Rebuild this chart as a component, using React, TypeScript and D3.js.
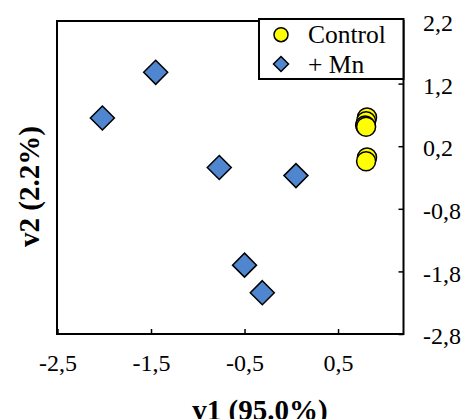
import { useEffect, useRef } from "react";
import * as d3 from "d3";

// PCA scores
const controlV1 = [0.81, 0.8, 0.79, 0.8, 0.81, 0.8];
const controlV2 = [0.66, 0.6, 0.53, 0.51, 0.02, -0.04];
const mnV1 = [-1.45, -2.02, -0.77, 0.05, -0.5, -0.31];
const mnV2 = [1.38, 0.65, -0.14, -0.27, -1.7, -2.14];

const xTicks = [-2.5, -1.5, -0.5, 0.5];
const yTicks = [2.2, 1.2, 0.2, -0.8, -1.8, -2.8];
const legendLabels = ["Control", "+ Mn"];

const width = 463;
const height = 419;
const plot = { left: 57.5, right: 403.5, top: 21, bottom: 334 };
const FONT = "Liberation Serif";
const YELLOW = "#ffff00";
const BLUE = "#4f86cf";

const fmt = (d: number) => d.toFixed(1).replace(".", ",");

function diamond(cx: number, cy: number, r: number) {
  return `M${cx},${cy - r}L${cx + r},${cy}L${cx},${cy + r}L${cx - r},${cy}Z`;
}

export default function App() {
  const xAxisRef = useRef<SVGGElement>(null);
  const yAxisRef = useRef<SVGGElement>(null);

  const x = d3.scaleLinear().domain([-2.5, 1.2]).range([plot.left, plot.right]);
  const y = d3.scaleLinear().domain([-2.8, 2.2]).range([plot.bottom, plot.top]);

  useEffect(() => {
    if (!xAxisRef.current || !yAxisRef.current) return;

    const gx = d3.select(xAxisRef.current);
    gx.selectAll("*").remove();
    gx.call(
      d3
        .axisBottom(x)
        .tickValues(xTicks)
        .tickSizeInner(-5)
        .tickSizeOuter(0)
        .tickPadding(20)
        .tickFormat((d) => fmt(d as number))
    );
    gx.attr("font-family", null).attr("font-size", null);
    gx.select(".domain").remove();
    gx.selectAll("line").attr("stroke", "#000").attr("stroke-width", 1.5);
    gx.selectAll("text")
      .attr("fill", "#000")
      .style("font-family", FONT)
      .style("font-size", "24px");

    const gy = d3.select(yAxisRef.current);
    gy.selectAll("*").remove();
    gy.call(
      d3
        .axisRight(y)
        .tickValues(yTicks)
        .tickSizeInner(-5)
        .tickSizeOuter(0)
        .tickPadding(19.5)
        .tickFormat((d) => fmt(d as number))
    );
    gy.attr("font-family", null).attr("font-size", null);
    gy.select(".domain").remove();
    gy.selectAll("line").attr("stroke", "#000").attr("stroke-width", 1.5);
    gy.selectAll("text")
      .attr("fill", "#000")
      .style("font-family", FONT)
      .style("font-size", "24px")
      .attr("dy", "0.4em");
  }, []);

  return (
    <svg
      width={width}
      height={height}
      style={{ position: "absolute", left: 0, top: 0, background: "#fff", fontFamily: FONT }}
    >
      <rect
        x={plot.left - 0.5}
        y={plot.top}
        width={plot.right - plot.left + 0.5}
        height={plot.bottom - plot.top}
        fill="none"
        stroke="#000"
        strokeWidth={2}
      />
      <g ref={xAxisRef} transform={`translate(0,${plot.bottom})`} />
      <g ref={yAxisRef} transform={`translate(${plot.right},0)`} />

      {mnV1.map((v, i) => (
        <path
          key={"mn" + i}
          d={diamond(x(v), y(mnV2[i]), 12)}
          fill={BLUE}
          stroke="#000"
          strokeWidth={1.5}
        />
      ))}
      {controlV1.map((v, i) => (
        <circle
          key={"c" + i}
          cx={x(v)}
          cy={y(controlV2[i])}
          r={9.5}
          fill={YELLOW}
          stroke="#000"
          strokeWidth={1.5}
        />
      ))}

      {/* legend */}
      <rect x={259} y={19} width={144.5} height={60} fill="#fff" stroke="#000" strokeWidth={2} />
      <circle cx={281} cy={34.7} r={7} fill={YELLOW} stroke="#000" strokeWidth={1.5} />
      <path d={diamond(281, 64, 7.5)} fill={BLUE} stroke="#000" strokeWidth={1.5} />
      <text x={308} y={42.5} style={{ fontFamily: FONT, fontSize: 25.5 }}>
        {legendLabels[0]}
      </text>
      <text x={308} y={73.3} style={{ fontFamily: FONT, fontSize: 25.5 }}>
        {legendLabels[1]}
      </text>

      {/* axis titles */}
      <text
        x={260}
        y={420}
        textAnchor="middle"
        style={{ fontFamily: FONT, fontSize: 29, fontWeight: "bold" }}
      >
        v1 (95.0%)
      </text>
      <text
        transform="translate(39,186.5) rotate(-90)"
        textAnchor="middle"
        style={{ fontFamily: FONT, fontSize: 29, fontWeight: "bold" }}
      >
        v2 (2.2%)
      </text>
    </svg>
  );
}
